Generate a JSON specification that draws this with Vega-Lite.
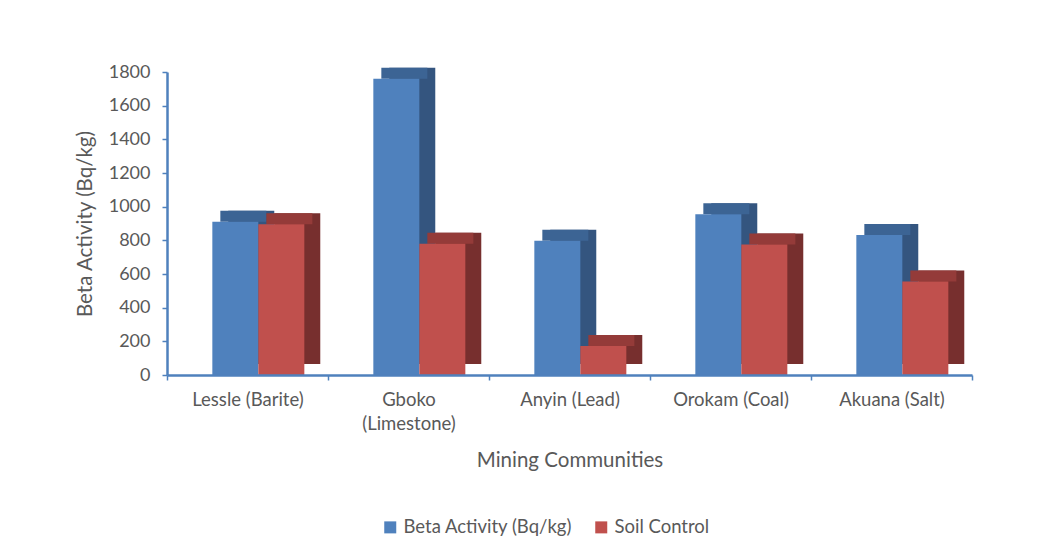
{
  "$schema": "https://vega.github.io/schema/vega-lite/v6.json",
  "width": 805,
  "height": 303,
  "autosize": {"type": "none"},
  "padding": {"left": 167, "top": 72, "right": 88, "bottom": 184},
  "background": "white",
  "config": {"view": {"stroke": null}, "font": "Lato"},
  "data": {
    "values": [
      {"community": "Lessle (Barite)", "series": "Beta Activity (Bq/kg)", "value": 911},
      {"community": "Lessle (Barite)", "series": "Soil Control", "value": 895},
      {"community": "Gboko (Limestone)", "series": "Beta Activity (Bq/kg)", "value": 1760},
      {"community": "Gboko (Limestone)", "series": "Soil Control", "value": 779},
      {"community": "Anyin (Lead)", "series": "Beta Activity (Bq/kg)", "value": 797},
      {"community": "Anyin (Lead)", "series": "Soil Control", "value": 172},
      {"community": "Orokam (Coal)", "series": "Beta Activity (Bq/kg)", "value": 955},
      {"community": "Orokam (Coal)", "series": "Soil Control", "value": 775},
      {"community": "Akuana (Salt)", "series": "Beta Activity (Bq/kg)", "value": 831},
      {"community": "Akuana (Salt)", "series": "Soil Control", "value": 555}
    ]
  },
  "encoding": {
    "x": {
      "field": "community",
      "type": "nominal",
      "sort": null,
      "scale": {"paddingInner": 0, "paddingOuter": 0},
      "axis": {
        "title": "Mining Communities",
        "titleFont": "Lato",
        "titleFontSize": 20.5,
        "titleFontWeight": "normal",
        "titleColor": "#595959",
        "titlePadding": 18,
        "labelAngle": 0,
        "labelFontSize": 18.5,
        "labelColor": "#595959",
        "labelPadding": 10,
        "labelLineHeight": 24,
        "labelExpr": "length(datum.label) > 16 ? split(datum.label, ' ') : datum.label",
        "domainColor": "#4F81BD",
        "domainWidth": 2.5,
        "tickColor": "#4F81BD",
        "tickWidth": 1.5,
        "tickSize": 5,
        "tickBand": "extent",
        "zindex": 1
      }
    },
    "y": {
      "field": "value",
      "type": "quantitative",
      "scale": {"domain": [0, 1800], "nice": false},
      "axis": {
        "title": "Beta Activity (Bq/kg)",
        "titleFont": "Lato",
        "titleFontSize": 20.5,
        "titleFontWeight": "normal",
        "titleColor": "#595959",
        "titlePadding": 13,
        "values": [0, 200, 400, 600, 800, 1000, 1200, 1400, 1600, 1800],
        "format": "d",
        "grid": false,
        "labelFontSize": 18,
        "labelColor": "#595959",
        "labelPadding": 12,
        "domainColor": "#4F81BD",
        "domainWidth": 2.5,
        "tickColor": "#4F81BD",
        "tickWidth": 1.5,
        "tickSize": 5,
        "zindex": 1
      }
    }
  },
  "layer": [
    {
      "mark": {"type": "bar", "yOffset": -11, "y2Offset": -11},
      "encoding": {
        "xOffset": {
          "field": "series",
          "sort": ["Beta Activity (Bq/kg)", "Soil Control"],
          "scale": {"paddingInner": 0, "paddingOuter": 0.75, "align": 0.888}
        },
        "color": {
          "field": "series",
          "scale": {"domain": ["Beta Activity (Bq/kg)", "Soil Control"], "range": ["#34557F", "#772F2E"]},
          "legend": null
        }
      }
    },
    {
      "mark": {"type": "bar", "yOffset": -11, "y2Offset": 0},
      "encoding": {
        "xOffset": {
          "field": "series",
          "sort": ["Beta Activity (Bq/kg)", "Soil Control"],
          "scale": {"paddingInner": 0, "paddingOuter": 0.75, "align": 0.773}
        },
        "y2": {"field": "value"},
        "color": {
          "field": "series",
          "scale": {"domain": ["Beta Activity (Bq/kg)", "Soil Control"], "range": ["#3C6494", "#943B39"]},
          "legend": null
        }
      }
    },
    {
      "mark": {"type": "bar"},
      "encoding": {
        "xOffset": {
          "field": "series",
          "sort": ["Beta Activity (Bq/kg)", "Soil Control"],
          "scale": {"paddingInner": 0, "paddingOuter": 0.75, "align": 0.657}
        },
        "color": {
          "field": "series",
          "scale": {"domain": ["Beta Activity (Bq/kg)", "Soil Control"], "range": ["#4F81BD", "#C0504D"]},
          "legend": {
            "title": null,
            "orient": "none",
            "direction": "horizontal",
            "legendX": 214,
            "legendY": 446,
            "symbolType": "square",
            "symbolSize": 144,
            "symbolStrokeWidth": 0,
            "labelFontSize": 18.5,
            "labelLimit": 400,
            "labelColor": "#595959",
            "labelOffset": 4,
            "columnPadding": 19
          }
        }
      }
    }
  ],
  "resolve": {"scale": {"color": "independent", "xOffset": "independent"}}
}
